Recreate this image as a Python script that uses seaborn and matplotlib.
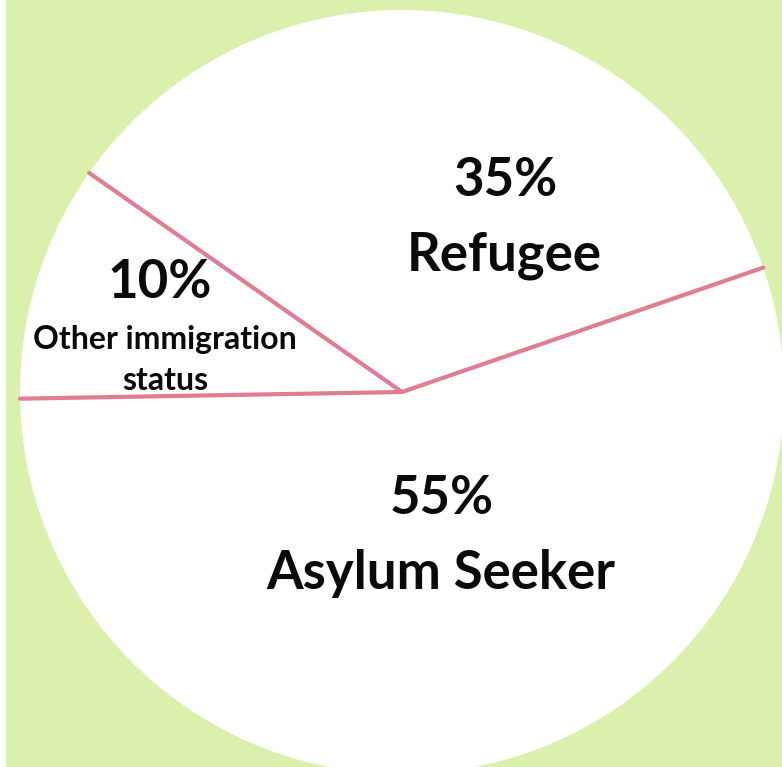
import numpy as np
import matplotlib
matplotlib.use("Agg")
import matplotlib.pyplot as plt
import seaborn as sns

# ---- data ----
categories = ["Asylum Seeker", "Refugee", "Other immigration\nstatus"]
shares = [55, 35, 10]
pct_labels = ["55%", "35%", "10%"]

sns.set_theme(style="white")
plt.rcParams['font.family'] = ['Lato', 'DejaVu Sans']

W, H = 782, 767
green = "#dcf0ad"
pink = "#e07d90"

fig = plt.figure(figsize=(W / 100, H / 100), dpi=100, facecolor="white")
ax = fig.add_axes([6 / W, 0, 1 - 6 / W, 1])
ax.set_facecolor(green)
ax.add_patch(plt.Rectangle((6, 0), W - 6, H, color=green, zorder=0))

cx, cy, r = 402, 392, 382

# y axis is inverted, so counterclock=False yields visual counter-clockwise
wedges, _ = ax.pie(shares, center=(cx, cy), radius=r, startangle=-181,
                   counterclock=False, colors=["white"] * 3,
                   wedgeprops=dict(linewidth=0), frame=True)
ax.set_xlim(6, W)
ax.set_ylim(H, 0)
ax.set_aspect("equal")
ax.axis("off")

for w in wedges:
    th = np.deg2rad(w.theta1)
    ax.plot([cx, cx + r * np.cos(th)], [cy, cy + r * np.sin(th)],
            color=pink, lw=3, solid_capstyle="round", zorder=5)

txt = dict(ha="center", va="center", color="#0a0a0a", fontweight="bold", zorder=6)
ax.text(505, 180, pct_labels[1], fontsize=38, **txt)
ax.text(504, 255, categories[1], fontsize=38, **txt)
ax.text(160, 282, pct_labels[2], fontsize=38, **txt)
ax.text(165, 340, "Other immigration", fontsize=23, **txt)
ax.text(165, 380, "status", fontsize=23, **txt)
ax.text(442, 498, pct_labels[0], fontsize=38, **txt)
ax.text(441, 573, categories[0], fontsize=38, **txt)

fig.savefig("out.png", dpi=100, facecolor="white")
